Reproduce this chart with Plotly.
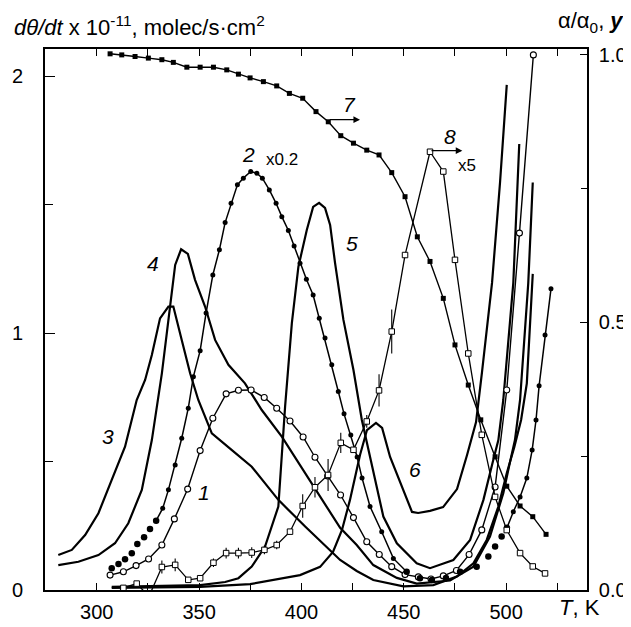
import plotly.graph_objects as go

# ---------------- data ----------------
# curve 1: open circles, left axis
T1 = [306.5, 313.0, 319.2, 325.3, 331.8, 337.9, 344.4, 350.5, 356.7, 363.2, 369.2, 375.4,
      381.8, 387.9, 394.4, 400.8, 406.6, 412.8, 419.1, 425.4, 431.9, 438.0, 444.1, 450.6,
      457.1, 463.3, 469.3, 475.7, 481.9, 488.1, 494.6, 500.3, 506.5, 513.3]
Y1 = [0.058, 0.071, 0.095, 0.121, 0.175, 0.277, 0.393, 0.543, 0.669, 0.764, 0.778, 0.779,
      0.750, 0.708, 0.658, 0.596, 0.517, 0.444, 0.370, 0.282, 0.188, 0.138, 0.091, 0.060,
      0.051, 0.043, 0.055, 0.076, 0.138, 0.234, 0.401, 0.779, 1.390, 2.084]

# curve 2: filled dots (x0.2), left axis
T2 = [307.3, 310.6, 313.8, 317.1, 319.8, 323.1, 326.0, 329.0, 332.2, 335.0, 338.3, 341.5,
      344.7, 347.2, 350.5, 353.4, 356.7, 359.9, 362.7, 365.6, 368.7, 371.6, 375.2, 378.2,
      380.9, 384.3, 387.6, 390.4, 393.6, 396.4, 399.3, 402.4, 405.7, 408.7, 411.5, 414.8,
      418.0, 420.8, 424.1, 427.2, 429.6, 433.5, 439.2, 444.9, 451.4, 457.9, 463.7, 470.6,
      477.5, 485.6, 491.3, 494.6, 497.8, 500.4, 503.5, 506.8, 510.1, 512.7, 514.6, 516.1,
      519.0, 521.9]
Y2 = [0.085, 0.101, 0.120, 0.143, 0.179, 0.205, 0.238, 0.270, 0.318, 0.390, 0.487, 0.591,
      0.708, 0.831, 0.932, 1.079, 1.227, 1.325, 1.431, 1.506, 1.578, 1.604, 1.630, 1.623,
      1.604, 1.558, 1.506, 1.454, 1.400, 1.340, 1.273, 1.210, 1.149, 1.058, 0.981, 0.877,
      0.773, 0.686, 0.604, 0.518, 0.436, 0.325, 0.227, 0.123, 0.071, 0.046, 0.039, 0.047,
      0.071, 0.091, 0.130, 0.169, 0.208, 0.242, 0.305, 0.362, 0.436, 0.545, 0.662, 0.795,
      0.993, 1.173]

# curve 3: solid, left axis
T3 = [281.2, 287.8, 294.3, 300.8, 307.3, 313.8, 319.5, 323.6, 326.9, 330.9, 335.0, 337.4,
      341.5, 345.6, 349.6, 356.2, 366.0, 375.7, 388.7, 401.8, 418.9, 427.0, 435.1, 449.8,
      464.4, 475.9, 484.0, 490.5, 496.2, 500.3, 504.0, 507.3, 510.1, 513.0]
Y3 = [0.136, 0.156, 0.214, 0.299, 0.429, 0.558, 0.740, 0.818, 0.915, 1.058, 1.104, 1.104,
      0.974, 0.844, 0.740, 0.610, 0.545, 0.480, 0.351, 0.247, 0.117, 0.074, 0.039, 0.014,
      0.019, 0.052, 0.104, 0.195, 0.325, 0.455, 0.557, 0.662, 0.805, 1.231]

# curve 4: solid, left axis
T4 = [281.2, 291.0, 300.8, 308.9, 315.4, 322.0, 326.9, 331.8, 335.8, 338.3, 341.2, 344.5,
      348.0, 352.9, 357.8, 364.3, 372.4, 380.6, 390.4, 399.3, 409.1, 418.9, 427.0, 435.1,
      446.6, 456.3, 472.6, 484.0, 492.1, 498.6, 501.9, 504.3, 506.8, 510.8, 513.0]
Y4 = [0.097, 0.110, 0.136, 0.182, 0.260, 0.390, 0.584, 0.844, 1.104, 1.266, 1.327, 1.309,
      1.208, 1.104, 0.974, 0.877, 0.805, 0.701, 0.597, 0.487, 0.363, 0.242, 0.175, 0.097,
      0.047, 0.025, 0.037, 0.091, 0.208, 0.377, 0.499, 0.584, 0.740, 1.195, 1.587]

# curve 5: solid, left axis
T5 = [307.3, 330.9, 350.5, 362.7, 369.2, 375.7, 382.2, 388.7, 392.0, 395.3, 398.5, 402.6,
      405.7, 408.6, 411.5, 414.0, 416.4, 420.5, 425.4, 429.5, 435.1, 440.0, 446.6, 456.3,
      462.8, 474.2, 482.4, 488.9, 493.7, 496.2, 498.6, 503.5, 506.4]
Y5 = [0.012, 0.016, 0.019, 0.031, 0.046, 0.091, 0.169, 0.325, 0.714, 1.039, 1.259, 1.402,
      1.492, 1.508, 1.488, 1.422, 1.274, 1.052, 0.857, 0.662, 0.455, 0.286, 0.182, 0.104,
      0.085, 0.117, 0.195, 0.351, 0.506, 0.584, 0.740, 1.196, 1.737]

# curve 6: solid, left axis
T6 = [307.3, 350.5, 374.9, 389.5, 399.3, 409.1, 415.4, 419.8, 423.7, 428.6, 432.0, 436.4,
      439.4, 443.3, 447.2, 454.0, 457.0, 462.8, 469.2, 476.0, 480.9, 485.3, 488.2, 493.1,
      497.0, 500.3]
Y6 = [0.008, 0.012, 0.023, 0.043, 0.058, 0.090, 0.148, 0.234, 0.351, 0.526, 0.623, 0.651,
      0.631, 0.518, 0.440, 0.304, 0.300, 0.308, 0.323, 0.393, 0.526, 0.654, 0.849, 1.196,
      1.586, 1.967]

# curve 7: filled squares, right axis (alpha/alpha0)
T7 = [306.5, 312.2, 318.7, 325.2, 331.8, 337.4, 344.0, 350.5, 357.0, 363.5, 369.2, 374.9,
      381.4, 387.9, 394.1, 400.6, 407.1, 413.1, 419.2, 425.4, 431.9, 437.9, 444.1, 450.6,
      456.6, 462.8, 469.3, 475.0, 481.5, 487.6, 494.6, 500.3, 506.8, 513.0, 519.5]
Y7 = [1.002, 1.000, 0.997, 0.994, 0.991, 0.986, 0.977, 0.977, 0.977, 0.972, 0.964, 0.957,
      0.950, 0.942, 0.928, 0.919, 0.894, 0.875, 0.849, 0.835, 0.822, 0.813, 0.780, 0.735,
      0.660, 0.614, 0.545, 0.458, 0.383, 0.318, 0.249, 0.194, 0.157, 0.137, 0.104]

# curve 8: open squares (x5), right axis (y), with error bars
T8 = [306.5, 313.0, 319.5, 325.5, 331.8, 338.3, 344.7, 350.5, 357.0, 363.2, 369.2, 375.7,
      381.9, 387.9, 394.4, 400.6, 406.6, 413.0, 419.2, 425.4, 431.9, 437.9, 444.1, 450.6,
      462.8, 469.3, 475.0, 481.5, 488.1, 494.6, 500.3, 506.8, 513.0, 519.0]
Y8 = [-0.015, 0.004, 0.012, -0.012, 0.043, 0.047, 0.019, 0.022, 0.051, 0.069, 0.069, 0.070,
      0.075, 0.084, 0.109, 0.157, 0.192, 0.215, 0.275, 0.262, 0.315, 0.373, 0.483, 0.626,
      0.819, 0.782, 0.617, 0.442, 0.290, 0.174, 0.112, 0.069, 0.044, 0.031]
E8 = [0, 0, 0, 0, 0.012, 0.012, 0, 0, 0.008, 0.010, 0.010, 0.010,
      0.008, 0.008, 0, 0.022, 0.019, 0.030, 0.019, 0, 0.012, 0.030, 0.041, 0,
      0, 0, 0, 0, 0, 0, 0, 0, 0, 0]

# curve labels: (text, T, value, axis)
LABELS = [("1", 352.5, 0.38, "y"), ("2", 374.1, 1.695, "y"), ("3", 305.7, 0.597, "y"),
          ("4", 327.7, 1.273, "y"), ("5", 424.6, 1.351, "y"), ("6", 455.5, 0.470, "y"),
          ("7", 423.7, 0.907, "y2"), ("8", 472.6, 0.847, "y2")]
FACTORS = [("x0.2", 390.4, 1.675, "y"), ("x5", 480.8, 0.794, "y2")]
ARROWS = [(413.1, 428.6, 0.879), (462.8, 478.6, 0.821)]

XTICKS = [300, 350, 400, 450, 500]
YTICKS_L = [0, 1, 2]
YTICKS_R = [0.0, 0.5, 1.0]
YTICKTEXT_R = ["0.0", "0.5", "1.0"]

FONT = "Liberation Sans, Arial, sans-serif"
K = "black"

fig = go.Figure()

solid = dict(color=K, width=2.2)
for T, Y in [(T3, Y3), (T4, Y4), (T5, Y5), (T6, Y6)]:
    fig.add_trace(go.Scatter(x=T, y=Y, mode="lines", line=solid, yaxis="y"))

# curve 1
fig.add_trace(go.Scatter(x=T1, y=Y1, mode="lines+markers", yaxis="y",
                         line=dict(color=K, width=1.4),
                         marker=dict(symbol="circle", size=6, color="white",
                                     line=dict(color=K, width=1.1))))

# curve 2: dotted ends + connected middle
a, b, c = 7, 44, 53
fig.add_trace(go.Scatter(x=T2[:a + 1], y=Y2[:a + 1], mode="markers", yaxis="y",
                         marker=dict(size=6.5, color=K)))
fig.add_trace(go.Scatter(x=T2[a:b + 1], y=Y2[a:b + 1], mode="lines+markers", yaxis="y",
                         line=dict(color=K, width=1.5), marker=dict(size=5, color=K)))
fig.add_trace(go.Scatter(x=T2[b:c + 1], y=Y2[b:c + 1], mode="markers", yaxis="y",
                         marker=dict(size=6.5, color=K)))
fig.add_trace(go.Scatter(x=T2[c:], y=Y2[c:], mode="lines+markers", yaxis="y",
                         line=dict(color=K, width=1.5), marker=dict(size=5, color=K)))

# curve 7
fig.add_trace(go.Scatter(x=T7, y=Y7, mode="lines+markers", yaxis="y2",
                         line=dict(color=K, width=1.4),
                         marker=dict(symbol="square", size=5, color=K)))

# curve 8
fig.add_trace(go.Scatter(x=T8, y=Y8, mode="lines+markers", yaxis="y2", cliponaxis=False,
                         line=dict(color=K, width=1.3),
                         marker=dict(symbol="square", size=5.5, color="white",
                                     line=dict(color=K, width=1)),
                         error_y=dict(type="data", array=E8, visible=True, color=K,
                                      thickness=1.1, width=0)))

ann = []
for txt, x, y, ax in LABELS:
    ann.append(dict(x=x, y=y, xref="x", yref=ax, text="<i>%s</i>" % txt, showarrow=False,
                    font=dict(family=FONT, size=21, color=K)))
for txt, x, y, ax in FACTORS:
    ann.append(dict(x=x, y=y, xref="x", yref=ax, text=txt, showarrow=False,
                    font=dict(family=FONT, size=17, color=K)))
for x0, x1, y in ARROWS:
    ann.append(dict(x=x1, y=y, ax=x0, ay=y, xref="x", yref="y2", axref="x", ayref="y2",
                    text="", showarrow=True, arrowhead=2, arrowsize=1.2, arrowwidth=1.1,
                    arrowcolor=K))

# axis titles
ann.append(dict(x=-0.061, y=1.043, xref="paper", yref="paper", xanchor="left",
                yanchor="middle", showarrow=False,
                text="<i>d\u03b8/dt</i> x 10<sup>-11</sup>, molec/s\u00b7cm<sup>2</sup>",
                font=dict(family=FONT, size=22, color=K)))
ann.append(dict(x=1.072, y=1.050, xref="paper", yref="paper", xanchor="right",
                yanchor="middle", showarrow=False,
                text="\u03b1/\u03b1<sub>0</sub>, <b><i>y</i></b>",
                font=dict(family=FONT, size=22, color=K)))
ann.append(dict(x=1.027, y=-0.033, xref="paper", yref="paper", xanchor="right",
                yanchor="middle", showarrow=False, text="<i>T</i>, K",
                font=dict(family=FONT, size=22, color=K)))

# the page body adds an 8px offset, so the figure is 8px smaller on each side
fig.update_layout(
    width=623, height=619,
    margin=dict(l=37, r=44, t=41, b=37, autoexpand=False),
    paper_bgcolor="white", plot_bgcolor="white",
    showlegend=False,
    font=dict(family=FONT, size=20, color=K),
    annotations=ann,
    xaxis=dict(range=[274.7, 539.5], tickvals=XTICKS, ticks="inside", ticklen=7,
               tickwidth=1.3, tickcolor=K, showline=True, linecolor=K, linewidth=1.6,
               mirror="allticks", showgrid=False, zeroline=False, automargin=False,
               minor=dict(dtick=25, ticks="inside", ticklen=5, tickcolor=K, tickwidth=1.2,
                          showgrid=False),
               tickfont=dict(family=FONT, size=20, color=K), ticklabelstandoff=3),
    yaxis=dict(range=[0, 2.107], tickvals=YTICKS_L, ticks="inside", ticklen=10,
               tickwidth=1.3, tickcolor=K, showline=True, linecolor=K, linewidth=1.6,
               showgrid=False, zeroline=False, automargin=False,
               minor=dict(dtick=0.5, ticks="inside", ticklen=8, tickcolor=K, tickwidth=1.2,
                          showgrid=False),
               tickfont=dict(family=FONT, size=20, color=K), ticklabelstandoff=16),
    yaxis2=dict(range=[0, 1.011], tickvals=YTICKS_R, ticktext=YTICKTEXT_R, overlaying="y",
                side="right", ticks="inside", ticklen=7, tickwidth=1.3, tickcolor=K,
                showline=True, linecolor=K, linewidth=1.6, showgrid=False, zeroline=False,
                automargin=False,
                minor=dict(dtick=0.25, ticks="inside", ticklen=6, tickcolor=K, tickwidth=1.2,
                           showgrid=False),
                tickfont=dict(family=FONT, size=20, color=K), ticklabelstandoff=6),
)

fig.write_html("out.html")
